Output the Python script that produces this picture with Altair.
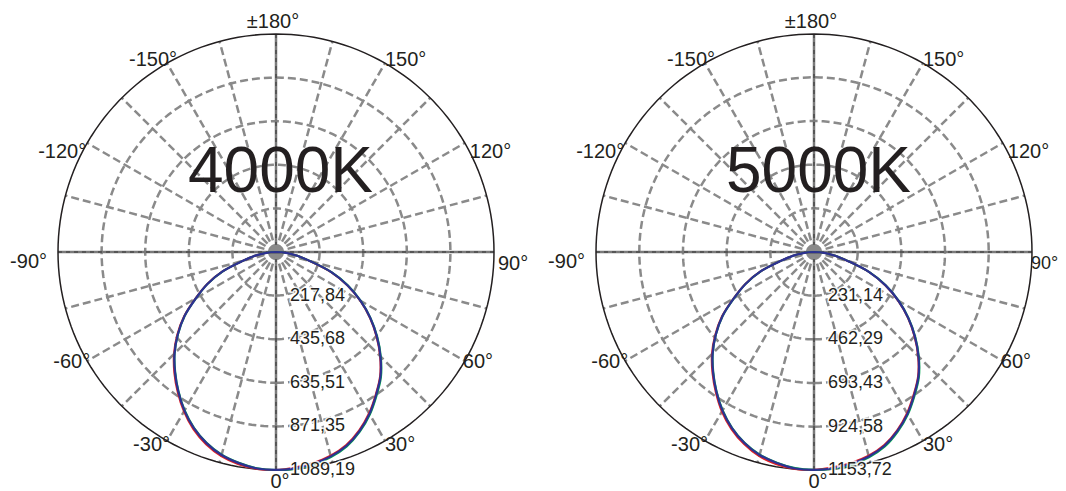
import numpy as np
import pandas as pd
import altair as alt

# ---------------- data ----------------
ANGLES = list(range(-90, 91, 5))  # degrees, 0 = straight down

PANELS = ["4000K", "5000K"]

RING_VALUES_4000 = [217.84, 435.68, 653.51, 871.35, 1089.19]
RING_LABELS_4000 = ["217,84", "435,68", "635,51", "871,35", "1089,19"]
RING_VALUES_5000 = [231.14, 462.29, 693.43, 924.58, 1153.72]
RING_LABELS_5000 = ["231,14", "462,29", "693,43", "924,58", "1153,72"]

RED_4000 = [0, 48, 106, 172, 286, 380, 465, 561, 644, 721, 790, 856, 920, 977, 1022, 1056, 1077, 1088, 1089,
            1081, 1070, 1053, 1026, 983, 930, 869, 809, 735, 655, 573, 485, 393, 293, 176, 108, 50, 0]
GREEN_4000 = [0, 48, 105, 171, 283, 377, 461, 557, 639, 716, 783, 849, 913, 969, 1014, 1048, 1069, 1084, 1089,
              1088, 1078, 1061, 1034, 991, 938, 876, 816, 741, 661, 577, 489, 397, 295, 177, 108, 50, 0]
BLUE_4000 = [0, 48, 105, 171, 284, 378, 462, 558, 640, 717, 785, 851, 915, 971, 1016, 1050, 1071, 1086, 1089,
             1085, 1074, 1057, 1030, 987, 934, 872, 812, 738, 658, 575, 487, 395, 294, 177, 108, 50, 0]

RED_5000 = [0, 51, 112, 182, 303, 402, 492, 595, 682, 764, 836, 906, 975, 1034, 1082, 1119, 1141, 1153, 1153,
            1144, 1133, 1116, 1087, 1041, 985, 920, 857, 779, 694, 607, 514, 416, 310, 186, 114, 53, 0]
GREEN_5000 = [0, 51, 111, 181, 300, 399, 488, 590, 677, 757, 829, 899, 967, 1026, 1074, 1110, 1132, 1148, 1153,
              1152, 1143, 1125, 1096, 1049, 993, 928, 864, 785, 700, 611, 518, 420, 312, 188, 115, 53, 0]
BLUE_5000 = [0, 51, 111, 181, 301, 400, 489, 591, 678, 759, 831, 901, 969, 1028, 1076, 1112, 1134, 1150, 1153,
             1149, 1138, 1120, 1091, 1045, 989, 924, 860, 782, 697, 609, 516, 418, 311, 187, 114, 53, 0]

ANGLE_TICKS = [0, 30, 60, 90, 120, 150, 180, -150, -120, -90, -60, -30]
ANGLE_TICK_LABELS = ["0°", "30°", "60°", "90°", "120°", "150°", "±180°",
                     "-150°", "-120°", "-90°", "-60°", "-30°"]

# ---------------- layout (pixels) ----------------
W, H = 1050, 483
PX = 218.0                   # outer radius in px
CX = [268.0, 806.0]          # panel centres in plot coords
CY = 244.0
OFFS = [(c - CX[0]) / PX for c in CX]
# per-label nudges (dx, dy) in px
LABEL_NUDGE = {0: (4, 12), 30: (0, 4), 60: (-2, 1), 90: (4, 12), 120: (5, 9), 150: (0, -3), 180: (-3, -12),
               -30: (3, 4), -60: (3, 1), -90: (-11, 10), -120: (-1, 9), -150: (10, -3)}

FONT = "Liberation Sans"
GRID = "#8a8a8a"
COLORS = {"red": "#e31e24", "green": "#00a651", "blue": "#2e3192"}
WIDTHS = {"red": 2.0, "green": 2.0, "blue": 2.2}

xscale = alt.Scale(domain=[-CX[0] / PX, (W - CX[0]) / PX], nice=False, zero=False)
yscale = alt.Scale(domain=[-(H - CY) / PX, CY / PX], nice=False, zero=False)

ring_vals = [RING_VALUES_4000, RING_VALUES_5000]
ring_labs = [RING_LABELS_4000, RING_LABELS_5000]
series = [
    {"red": RED_4000, "green": GREEN_4000, "blue": BLUE_4000},
    {"red": RED_5000, "green": GREEN_5000, "blue": BLUE_5000},
]

# curves
crow = []
for p in range(2):
    imax = ring_vals[p][-1]
    for s, vals in series[p].items():
        for i, (a, v) in enumerate(zip(ANGLES, vals)):
            crow.append({"panel": PANELS[p], "series": s, "idx": i, "angle": a, "value": v,
                         "imax": imax, "off": OFFS[p]})
curves = pd.DataFrame(crow)

# rings
deg = np.arange(0, 361, 2)
rrow = []
for p in range(2):
    imax = ring_vals[p][-1]
    for k, rv in enumerate(ring_vals[p]):
        for d in deg:
            rrow.append({"key": f"{p}-{k}", "outer": k == 4, "deg": float(d), "frac": rv / imax,
                         "off": OFFS[p]})
rings = pd.DataFrame(rrow)

# radial lines
radrow = []
for p in range(2):
    for a in range(0, 360, 15):
        if a % 90 != 0:
            radrow.append({"angle": a, "off": OFFS[p]})
radials = pd.DataFrame(radrow)

axrow = []
for p in range(2):
    axrow.append({"x": OFFS[p] - 1, "y": 0.0, "x2": OFFS[p] + 1, "y2": 0.0})
    axrow.append({"x": OFFS[p], "y": -1.0, "x2": OFFS[p], "y2": 1.0})
axes_df = pd.DataFrame(axrow)

centers = pd.DataFrame({"x": OFFS, "y": [0.0, 0.0]})

# angle labels
lrow = []
for p in range(2):
    for a, t in zip(ANGLE_TICKS, ANGLE_TICK_LABELS):
        side = "center" if a in (0, 180) else ("right" if a > 0 else "left")
        ndx, ndy = LABEL_NUDGE[a]
        if p == 1 and a == 90:  # label at the very right edge of the page
            side, ndx = "edge", -1
        lrow.append({"angle": a, "text": t, "side": side, "off": OFFS[p], "ndx": ndx, "ndy": ndy})
alabels = pd.DataFrame(lrow)

# ring labels
rlrow = []
for p in range(2):
    imax = ring_vals[p][-1]
    for rv, t in zip(ring_vals[p], ring_labs[p]):
        rlrow.append({"x": OFFS[p] + 14 / PX, "y": -rv / imax, "text": t})
rlabels = pd.DataFrame(rlrow)

titles = pd.DataFrame({"x": [o + 4.5 / PX for o in OFFS], "y": [(CY - 184) / PX] * 2, "text": PANELS})

X = lambda f="x": alt.X(f"{f}:Q", scale=xscale, axis=None)
Y = lambda f="y": alt.Y(f"{f}:Q", scale=yscale, axis=None)

layers = []

# dashed grid rings
ring_base = alt.Chart(rings).transform_calculate(
    x="datum.off + datum.frac*sin(datum.deg*PI/180)",
    y="-datum.frac*cos(datum.deg*PI/180)",
)
layers.append(ring_base.transform_filter("!datum.outer").mark_line(
    color=GRID, strokeWidth=2.5, strokeDash=[8, 4]).encode(
    x=X(), y=Y(), detail="key:N", order="deg:Q"))

# radial dashed lines
layers.append(alt.Chart(radials).transform_calculate(
    x="datum.off", y="0",
    x2="datum.off + sin(datum.angle*PI/180)", y2="-cos(datum.angle*PI/180)",
).mark_rule(color=GRID, strokeWidth=2.5, strokeDash=[8, 4]).encode(
    x=X(), y=Y(), x2="x2:Q", y2="y2:Q"))

# main axes
layers.append(alt.Chart(axes_df).mark_rule(color="#7a7a7a", strokeWidth=2.5).encode(
    x=X(), y=Y(), x2="x2:Q", y2="y2:Q"))
layers.append(alt.Chart(axes_df).mark_rule(color="#222222", strokeWidth=0.8, strokeDash=[4, 4]).encode(
    x=X(), y=Y(), x2="x2:Q", y2="y2:Q"))

# centre dot
layers.append(alt.Chart(centers).mark_point(filled=True, shape="circle", size=210, color="#8a8a8a",
                                            opacity=1).encode(x=X(), y=Y()))

# outer black circle
layers.append(ring_base.transform_filter("datum.outer").mark_line(
    color="#231f20", strokeWidth=1.5).encode(x=X(), y=Y(), detail="key:N", order="deg:Q"))

# curves
for s in ["red", "green", "blue"]:
    layers.append(alt.Chart(curves).transform_filter(f"datum.series == '{s}'").transform_calculate(
        x="datum.off + datum.value/datum.imax*sin(datum.angle*PI/180)",
        y="-datum.value/datum.imax*cos(datum.angle*PI/180)",
    ).mark_line(color=COLORS[s], strokeWidth=WIDTHS[s], interpolate="catmull-rom").encode(
        x=X(), y=Y(), detail="panel:N", order="idx:Q"))

# ring labels (with halo)
layers.append(alt.Chart(rlabels).mark_text(align="left", baseline="middle", font=FONT, fontSize=18,
                                           stroke="white", strokeWidth=3, strokeOpacity=0.85,
                                           color="white").encode(x=X(), y=Y(), text="text:N"))
layers.append(alt.Chart(rlabels).mark_text(align="left", baseline="middle", font=FONT, fontSize=18,
                                           color="#231f20").encode(x=X(), y=Y(), text="text:N"))

# angle labels
lab_base = alt.Chart(alabels).transform_calculate(
    x=f"datum.off + sin(datum.angle*PI/180) + datum.ndx/{PX}",
    y=f"-cos(datum.angle*PI/180) - datum.ndy/{PX}",
)
for side, align, fs in [("right", "left", 20), ("left", "right", 20), ("center", "center", 20),
                        ("edge", "left", 18)]:
    layers.append(lab_base.transform_filter(f"datum.side == '{side}'").mark_text(
        align=align, baseline="middle", font=FONT, fontSize=fs, color="#231f20").encode(
        x=X(), y=Y(), text="text:N"))

# titles
layers.append(alt.Chart(titles).mark_text(align="center", baseline="alphabetic", font=FONT, fontSize=64,
                                          color="#231f20").encode(x=X(), y=Y(), text="text:N"))

chart = alt.layer(*layers).properties(
    width=W, height=H, padding=0, autosize=alt.AutoSizeParams(type="none"),
    background="white",
).configure_view(stroke=None)

chart.save("out.html", embed_options={"renderer": "svg", "actions": False})
